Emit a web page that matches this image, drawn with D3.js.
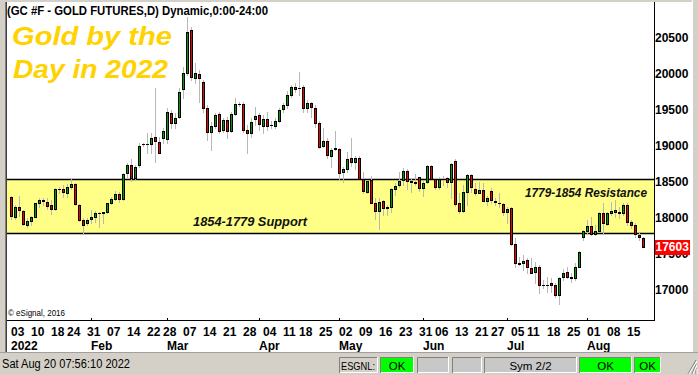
<!DOCTYPE html>
<html><head><meta charset="utf-8">
<script src="https://cdn.jsdelivr.net/npm/d3@7"></script>
<style>html,body{margin:0;padding:0;background:#fff;overflow:hidden}text{font-family:"Liberation Sans",Arial,sans-serif}</style>
</head><body><svg id="c" width="698" height="375"></svg>
<script>
// ---- categories: trading days of 2022 per month ----
const janDays = [3,4,5,6,7,10,11,12,13,14,18,19,20,21,24,25,26,27,28,31];
const febDays = [1,2,3,4,7,8,9,10,11,14,15,16,17,18,22,23,24,25,28];
const marDays = [1,2,3,4,7,8,9,10,11,14,15,16,17,18,21,22,23,24,25,28,29,30,31];
const aprDays = [1,4,5,6,7,8,11,12,13,14,18,19,20,21,22,25,26,27,28,29];
const mayDays = [2,3,4,5,6,9,10,11,12,13,16,17,18,19,20,23,24,25,26,27,31];
const junDays = [1,2,3,6,7,8,9,10,13,14,15,16,17,21,22,23,24,27,28,29,30];
const julDays = [1,5,6,7,8,11,12,13,14,15,18,19,20,21,22,25,26,27,28,29];
const augDays = [1,2,3,4,5,8,9,10,11,12,15,16,17,18,19];
const monthDays = [janDays,febDays,marDays,aprDays,mayDays,junDays,julDays,augDays];

// ---- series values (price x10, as on the chart axis) ----
const opens = [
18287,18018,18148,18092,17907,17963,18018,18213,18241,18222,
18176,18130,18398,18403,18352,18435,18472,18176,17972,17935,
17991,18009,18065,18069,18088,18213,18268,18333,18268,18630,
18736,18555,18731,19023,19023,19023,19120,19060,19116,19093,
19454,19324,19398,19792,20019,20611,19940,19995,19884,19532,
19199,19282,19440,19222,19357,19213,19444,19585,19579,19222,
19185,19380,19431,19278,19370,19292,19282,19347,19509,19569,
19708,19824,19810,19824,19532,19597,19523,19324,19005,19069,
18866,18968,18958,18639,18681,18833,18782,18829,18537,18366,
18528,18204,18102,18236,18148,18157,18398,18458,18528,18653,
18514,18500,18565,18412,18505,18722,18537,18435,18546,18551,
18505,18792,18204,18102,18366,18597,18398,18352,18389,18241,
18380,18231,18213,18194,18088,18134,17639,17375,17370,17417,
17301,17255,17324,17074,17069,17092,17069,16930,17176,17255,
17180,17162,17324,17731,17819,17889,17778,17819,18065,17917,
18065,18088,18074,18065,18180,17949,17903,17764,17718];
const highs = [
18305,18176,18305,18111,17995,18028,18213,18273,18273,18273,
18250,18412,18435,18458,18472,18537,18491,18194,17995,17995,
18111,18102,18088,18088,18213,18287,18380,18366,18620,18768,
18815,18731,19037,19046,19176,19176,19806,19130,19245,19524,
19500,19454,19801,20102,20790,20650,20148,20055,19917,19569,
19338,19454,19477,19384,19407,19477,19662,19606,19606,19292,
19384,19546,19454,19431,19477,19347,19384,19523,19592,19764,
19847,19870,20032,19847,19639,19606,19569,19347,19245,19106,
18968,19213,18968,18704,18917,19106,18861,18861,18644,18528,
18583,18273,18273,18250,18180,18412,18491,18644,18690,18676,
18537,18611,18574,18528,18736,18736,18551,18574,18583,18574,
18759,18819,18343,18458,18611,18611,18491,18505,18491,18305,
18412,18273,18343,18213,18157,18148,17718,17463,17486,17440,
17440,17393,17347,17139,17176,17162,17092,17185,17287,17324,
17241,17380,17546,17833,17972,18018,17903,18088,18204,18088,
18227,18250,18157,18204,18204,17972,17926,17787,17741];
const lows = [
17981,17990,18028,17903,17870,17903,18009,18157,18180,18125,
18056,18111,18352,18287,18287,18398,18180,17963,17778,17903,
17926,17949,17880,17926,18074,18194,18250,18227,18250,18574,
18518,18528,18713,19000,18907,18898,18782,18898,19037,19037,
19245,19245,19384,19662,19990,19917,19870,19616,19477,19083,
18944,19245,19176,19199,19106,19199,19431,19560,19199,18898,
19130,19292,19222,19176,19222,19245,19255,19329,19477,19523,
19685,19755,19708,19467,19477,19407,19268,18968,18991,18829,
18713,18944,18528,18505,18644,18727,18676,18528,18352,18343,
18204,17981,17852,18042,18042,18088,18319,18435,18458,18398,
18366,18458,18375,18305,18481,18528,18398,18398,18458,18426,
18273,18167,18065,18088,18180,18366,18319,18343,18231,18180,
18204,18180,18157,18042,17926,17625,17324,17347,17278,17231,
17231,17092,16954,17023,16977,16977,16907,16805,17139,17162,
17116,17139,17315,17694,17787,17764,17764,17810,17787,17903,
18042,18018,17995,18042,17903,17856,17741,17694,17592];
const closes = [
18028,18148,18111,17917,17954,18009,18204,18250,18250,18171,
18130,18398,18398,18366,18426,18472,18194,17972,17907,17972,
18018,18065,18069,18083,18204,18264,18333,18268,18611,18736,
18555,18704,19000,19023,19028,19111,19065,18907,19208,19468,
19315,19384,19745,20009,20579,19963,20009,19940,19532,19199,
19278,19431,19208,19357,19213,19440,19579,19580,19222,19185,
19329,19417,19301,19375,19278,19290,19347,19495,19569,19708,
19824,19792,19808,19532,19597,19546,19324,18991,19069,18870,
18944,18965,18630,18676,18815,18773,18829,18537,18380,18514,
18213,18102,18218,18143,18139,18398,18444,18514,18653,18518,
18495,18491,18412,18481,18722,18537,18435,18537,18542,18505,
18750,18194,18102,18356,18597,18426,18352,18389,18241,18273,
18250,18222,18204,18088,18120,17639,17370,17366,17403,17324,
17241,17324,17069,17065,17065,17065,16930,17162,17241,17176,
17170,17324,17532,17819,17889,17778,17819,18065,17926,18065,
18097,18111,18079,18180,17949,17903,17778,17731,17603];

// ---- zone & tick labels ----
const zoneLow = 17790, zoneHigh = 18540;
const zoneLabels = ["1854-1779 Support", "1779-1854 Resistance"];
const yTicks = [17000,17500,18000,18500,19000,19500,20000,20500];
const lastPrice = 17603;
const titleText = "(GC #F - GOLD FUTURES,D) Dynamic,0:00-24:00";
const bigTitle = ["Gold by the", "Day in 2022"];
const statusText = "Sat Aug 20 07:56:10 2022";

const dates = monthDays.flatMap((days, m) => days.map(d => new Date(2022, m, d)));
const data = dates.map((d, i) => ({d, i, o: opens[i], h: highs[i], l: lows[i], c: closes[i]}));

const svg = d3.select("#c");
const W = 698, H = 375;
const plotL = 7, plotR = 654, plotT = 2, plotB = 320;

const x = d3.scalePoint().domain(d3.range(dates.length)).range([11, 643]);
const y = d3.scaleLinear().domain([16583.33, 21000]).range([plotB, plotT]);
const px = i => Math.round(x(i));
const py = v => Math.round(y(v));

// background
svg.append("rect").attr("width", W).attr("height", H).attr("fill", "#fff");

// zone
svg.append("rect").attr("x", plotL).attr("y", py(zoneHigh)).attr("width", plotR - plotL)
  .attr("height", py(zoneLow) - py(zoneHigh)).attr("fill", "#FFFF88");
[zoneHigh, zoneLow].forEach(v => svg.append("line").attr("x1", plotL).attr("x2", plotR)
  .attr("y1", py(v) + 0.5).attr("y2", py(v) + 0.5).attr("stroke", "#000").attr("stroke-width", 1.3));

// zone labels
svg.append("text").attr("x", 193).attr("y", y(zoneLow) - 7).text(zoneLabels[0])
  .attr("font-size", 13).attr("font-weight", "bold").attr("font-style", "italic")
  .attr("textLength", 114).attr("lengthAdjust", "spacingAndGlyphs").attr("fill", "#111");
svg.append("text").attr("x", 525).attr("y", y(zoneHigh) + 17.5).text(zoneLabels[1])
  .attr("font-size", 13).attr("font-weight", "bold").attr("font-style", "italic")
  .attr("textLength", 122).attr("lengthAdjust", "spacingAndGlyphs").attr("fill", "#111");

// big title
bigTitle.forEach((t, k) => svg.append("text").attr("x", k ? 13 : 12).attr("y", k ? 77.5 : 44.5).text(t)
  .attr("font-size", 26).attr("font-weight", "bold").attr("font-style", "italic")
  .attr("fill", "#FFD200").attr("textLength", k ? 155 : 160).attr("lengthAdjust", "spacingAndGlyphs"));

// wicks
svg.append("g").selectAll("line").data(data).join("line")
  .attr("x1", d => px(d.i) + 0.5).attr("x2", d => px(d.i) + 0.5)
  .attr("y1", d => py(d.h)).attr("y2", d => py(d.l) + 1)
  .attr("stroke", "#B8B8B8").attr("stroke-width", 1);

// bodies
const bodies = svg.append("g");
data.forEach(d => {
  const top = py(Math.max(d.o, d.c)), bot = py(Math.min(d.o, d.c));
  const cx = px(d.i);
  if (bot - top < 1) {
    bodies.append("line").attr("x1", cx - 1).attr("x2", cx + 2).attr("y1", top + 0.5).attr("y2", top + 0.5)
      .attr("stroke", "#000").attr("stroke-width", 1);
  } else {
    bodies.append("rect").attr("x", cx - 0.5).attr("y", top + 0.5).attr("width", 2).attr("height", bot - top)
      .attr("fill", d.c > d.o ? "#009A00" : "#F00000").attr("stroke", "#000").attr("stroke-width", 1);
  }
});

// frame
svg.append("line").attr("x1", plotL).attr("x2", plotR + 1).attr("y1", plotB + 0.5).attr("y2", plotB + 0.5).attr("stroke", "#000");
svg.append("line").attr("x1", plotR + 0.5).attr("x2", plotR + 0.5).attr("y1", plotT).attr("y2", plotB + 1).attr("stroke", "#000");

// right axis labels
svg.append("g").selectAll("text").data(yTicks).join("text")
  .attr("x", plotR + 1).attr("y", d => y(d) + 4.5).text(d => d)
  .attr("font-size", 12).attr("font-weight", "bold").attr("fill", "#000");

// last price box (covers the 17500 label, as in the original)
svg.append("rect").attr("x", plotR + 1).attr("y", Math.round(y(lastPrice)) - 7).attr("width", 35).attr("height", 15).attr("fill", "#FF0000");
svg.append("text").attr("x", plotR + 1.5).attr("y", y(lastPrice) + 4.5).text(lastPrice)
  .attr("font-size", 12).attr("font-weight", "bold").attr("fill", "#fff");

// title
svg.append("text").attr("x", 7).attr("y", 15).text(titleText).attr("font-size", 12).attr("font-weight", "bold")
  .attr("textLength", 261).attr("lengthAdjust", "spacingAndGlyphs");

// copyright
svg.append("text").attr("x", 8).attr("y", 316).text("\u00A9 eSignal, 2016").attr("font-size", 8.5)
  .attr("textLength", 57).attr("lengthAdjust", "spacingAndGlyphs");

// x axis labels
const dayFmt = d3.timeFormat("%d"), monFmt = d3.timeFormat("%b");
const weekStarts = data.filter(d => d.i === 0 || d.d.getDay() < dates[d.i - 1].getDay());
const monthStarts = data.filter(d => d.i === 0 || d.d.getMonth() !== dates[d.i - 1].getMonth());
svg.append("g").selectAll("text").data(weekStarts).join("text")
  .attr("x", d => px(d.i)).attr("y", 335.5).text(d => dayFmt(d.d))
  .attr("font-size", 12).attr("font-weight", "bold");
svg.append("g").selectAll("text").data(monthStarts).join("text")
  .attr("x", d => px(d.i)).attr("y", 349.5).text(d => d.i === 0 ? "2022" : monFmt(d.d))
  .attr("font-size", 12).attr("font-weight", "bold");
svg.append("g").selectAll("line").data(monthStarts.slice(1)).join("line")
  .attr("x1", d => px(d.i) + 0.5).attr("x2", d => px(d.i) + 0.5).attr("y1", plotB - 2).attr("y2", plotB)
  .attr("stroke", "#000");

// window chrome
const chrome = "#D4D0C8";
svg.append("rect").attr("x", 0).attr("y", 0).attr("width", 7).attr("height", 353).attr("fill", chrome);
svg.append("line").attr("x1", 5.5).attr("x2", 5.5).attr("y1", 0).attr("y2", 353).attr("stroke", "#808080");
svg.append("line").attr("x1", 6.5).attr("x2", 6.5).attr("y1", 0).attr("y2", 353).attr("stroke", "#404040");
svg.append("rect").attr("x", 0).attr("y", 0).attr("width", W).attr("height", 2).attr("fill", chrome);
svg.append("rect").attr("x", 692).attr("y", 0).attr("width", 6).attr("height", 353).attr("fill", chrome);
svg.append("line").attr("x1", 692.5).attr("x2", 692.5).attr("y1", 0).attr("y2", 353).attr("stroke", "#fff");
svg.append("rect").attr("x", 0).attr("y", 352).attr("width", W).attr("height", 23).attr("fill", chrome);
svg.append("line").attr("x1", 0).attr("x2", W).attr("y1", 352.5).attr("y2", 352.5).attr("stroke", "#A0A0A0");

// status bar
svg.append("text").attr("x", 2).attr("y", 368).text(statusText).attr("font-size", 12).attr("fill", "#000")
  .attr("textLength", 128).attr("lengthAdjust", "spacingAndGlyphs");
const boxes = [
  {x: 339, w: 39, t: "ESGNL:", f: chrome, a: "start", tl: 34},
  {x: 380, w: 34, t: "OK", f: "#00FF00"},
  {x: 417, w: 32, t: "", f: "#C8C8C8"},
  {x: 452, w: 30, t: "", f: "#C8C8C8"},
  {x: 484, w: 93, t: "Sym 2/2", f: "#C8C8C8"},
  {x: 579, w: 53, t: "OK", f: "#00FF00"},
  {x: 634, w: 27, t: "OK", f: "#00FF00"}
];
boxes.forEach(b => {
  svg.append("rect").attr("x", b.x).attr("y", 357).attr("width", b.w).attr("height", 16).attr("fill", b.f);
  svg.append("path").attr("d", `M${b.x + 0.5},373 V357.5 H${b.x + b.w}`).attr("fill", "none").attr("stroke", "#808080");
  svg.append("path").attr("d", `M${b.x + 1},372.5 H${b.x + b.w - 0.5} V357`).attr("fill", "none").attr("stroke", "#fff");
  if (b.t) {
    const t = svg.append("text").attr("x", b.a ? b.x + 2 : b.x + b.w / 2).attr("y", 369.5)
      .attr("text-anchor", b.a ? "start" : "middle").text(b.t).attr("font-size", 11.5).attr("fill", "#000");
    if (b.tl) t.attr("textLength", b.tl).attr("lengthAdjust", "spacingAndGlyphs");
  }
});
// size grip
[0, 4, 8].forEach(k => {
  svg.append("line").attr("x1", 696 - k).attr("y1", 374).attr("x2", 696).attr("y2", 374 - k - 6)
    .attr("stroke", "#808080").attr("stroke-width", 1);
  svg.append("line").attr("x1", 697 - k).attr("y1", 374).attr("x2", 697).attr("y2", 374 - k - 5)
    .attr("stroke", "#fff").attr("stroke-width", 1);
});
</script></body></html>
